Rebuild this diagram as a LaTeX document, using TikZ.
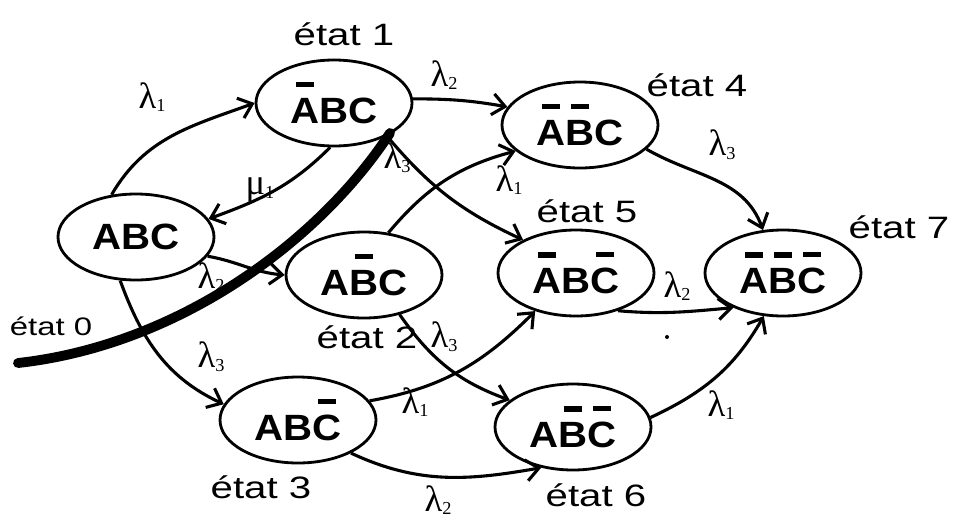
\documentclass[tikz,border=0pt]{standalone}
\usepackage{fontspec}
\usepackage{tikz}
\usetikzlibrary{
  % enables the ellipse nodes
  shapes.geometric,%
  % enables the barbed arrows
  arrows.meta,%
  calc,%
  positioning
}
\setmainfont{Liberation Sans}
\newfontfamily\etatfont[FakeStretch=1.3]{Liberation Sans}
\newfontfamily\abcfont[FakeStretch=1.1]{Liberation Sans}
\newfontfamily\grecfont{Liberation Serif}
\tikzset{>={Straight Barb[length=9pt,width=15pt]}}
\tikzset{etat/.style={ellipse, draw, line width=2pt, minimum width=3.9cm,
  minimum height=2.15cm, inner sep=0pt, font=\abcfont\bfseries\fontsize{26}{28}\selectfont}}
\tikzset{nom/.style={font=\etatfont\fontsize{22}{24}\selectfont}}
\tikzset{taux/.style={font=\grecfont\fontsize{26}{28}\selectfont, inner sep=1pt}}
\newcommand{\barre}[1]{\leavevmode\setbox0\hbox{#1}%
  \rlap{\hbox to \wd0{\hss\raisebox{\dimexpr\ht0+0.3em\relax}{\rule{0.6\wd0}{0.14em}}\hss}}\box0}
\newcommand{\tx}[2]{#1\raisebox{-0.1em}{\fontsize{13}{13}\selectfont #2}}

\begin{document}
\begin{tikzpicture}[line width=2.2pt]
  \useasboundingbox (0,0) rectangle (23.9,-12.925);
  \node[etat] (s0) at (3.4,-5.925) {ABC};
  \node[etat] (s1) at (8.35,-2.575) {\barre{A}BC};
  \node[etat] (s2) at (9.1,-6.875) {A\barre{B}C};
  \node[etat] (s3) at (7.45,-10.5) {AB\barre{C}};
  \node[etat] (s4) at (14.5,-3.125) {\barre{A}\barre{B}C};
  \node[etat] (s5) at (14.4,-6.825) {\barre{A}B\barre{C}};
  \node[etat] (s6) at (14.325,-10.675) {A\barre{B}\barre{C}};
  \node[etat] (s7) at (19.575,-6.825) {\barre{A}\barre{B}\barre{C}};

  \node[nom, font=\etatfont\fontsize{18}{20}\selectfont] (n0) at (1.275,-8.15) {état 0};
  \node[nom] (n1) at (8.6,-0.85) {état 1};
  \node[nom] (n2) at (9.175,-8.425) {état 2};
  \node[nom] (n3) at (6.525,-12.175) {état 3};
  \node[nom] (n4) at (17.425,-2.125) {état 4};
  \node[nom] (n5) at (14.675,-5.275) {état 5};
  \node[nom] (n6) at (14.9,-12.375) {état 6};
  \node[nom] (n7) at (22.475,-5.675) {état 7};

  \draw[->] (s0.120) to[out=60, in=200] (s1.180);
  \draw[->] (s1.265) to[out=225, in=20] (s0.14);
  \draw[->] (s1.3) to[out=0, in=170] (s4.166);
  \draw[->] (s1.328) to[out=-50, in=155] (s5.148);
  \draw[->] (s0.345) to[out=-10, in=175] (s2.180);
  \draw[->] (s0.250) to[out=-70, in=155] (s3.168);
  \draw[->] (s2.60) to[out=50, in=195] (s4.202);
  \draw[->] (s2.312) to[out=-55, in=160] (s6.157);
  \draw[->] (s3.15) to[out=10, in=225] (s5.223);
  \draw[->] (s3.328) to[out=-25, in=190] (s6.232);
  \draw[->] (s4.340) to[out=-30, in=110] (s7.115);
  \draw[->] (s5.318) to[out=-5, in=185] (s7.215);
  \draw[->] (s6.7) to[out=25, in=240] (s7.246);

  \node[taux] (t01) at (3.8,-2.425) {\tx{λ}{1}};
  \node[taux] (t14) at (11.1,-1.875) {\tx{λ}{2}};
  \node[taux] (t10) at (6.5,-4.75) {\tx{μ}{1}};
  \node[taux] (t15) at (9.925,-3.95) {\tx{λ}{3}};
  \node[taux] (t24) at (12.725,-4.5) {\tx{λ}{1}};
  \node[taux] (t47) at (18.05,-3.625) {\tx{λ}{3}};
  \node[taux] (t02) at (5.275,-6.925) {\tx{λ}{2}};
  \node[taux] (t03) at (5.275,-8.925) {\tx{λ}{3}};
  \node[taux] (t26) at (11.1,-8.425) {\tx{λ}{3}};
  \node[taux] (t35) at (10.375,-10.05) {\tx{λ}{1}};
  \node[taux] (t36) at (10.95,-12.5) {\tx{λ}{2}};
  \node[taux] (t57) at (16.925,-7.15) {\tx{λ}{2}};
  \node[taux] (t67) at (18.025,-10.125) {\tx{λ}{1}};

  \coordinate (cut0) at (0.45,-9.075);
  \coordinate (cut1) at (9.75,-3.325);
  \draw[line width=7pt, line cap=round] (cut0) .. controls (4.5,-8.625) and (8.0,-6.0) .. (cut1);
  \fill (16.675,-8.425) circle (0.05);
\end{tikzpicture}
\end{document}
